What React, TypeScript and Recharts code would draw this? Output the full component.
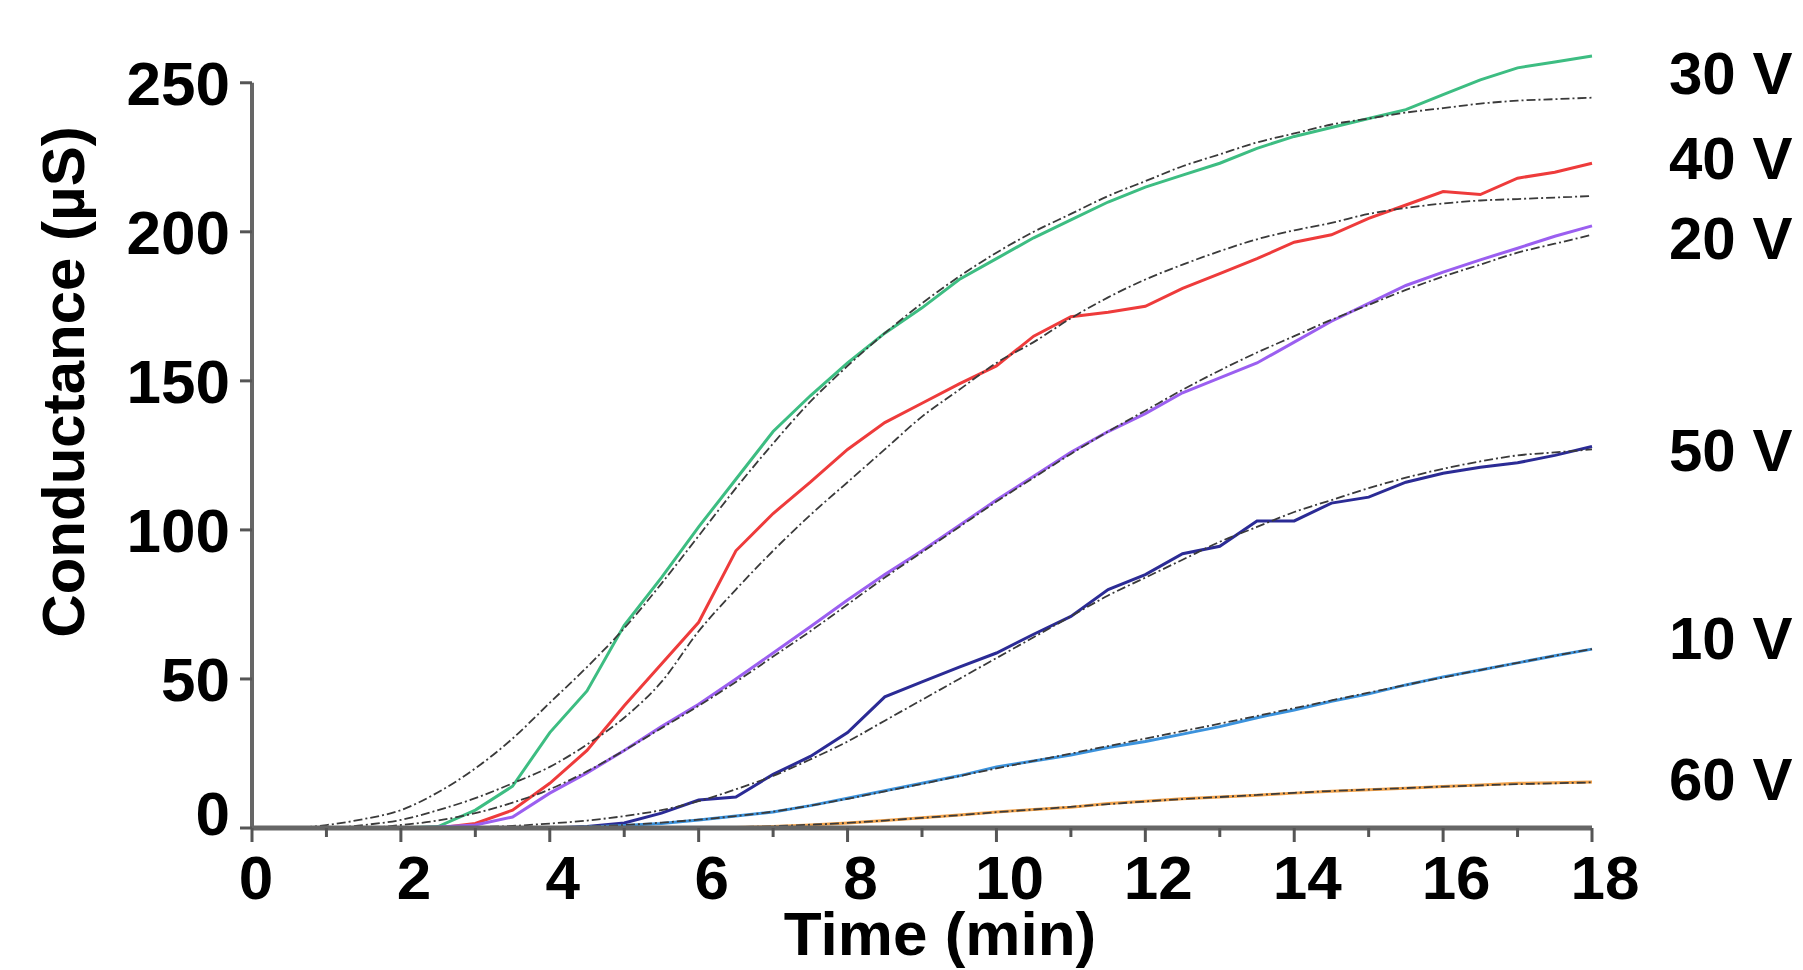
import { LineChart, Line, XAxis, YAxis, ReferenceDot, ReferenceLine } from "recharts";

const FONT = '"Liberation Sans", Arial, Helvetica, sans-serif';

// time in minutes
const time = [
  0, 0.5, 1, 1.5, 2, 2.5, 3, 3.5, 4, 4.5, 5, 5.5, 6, 6.5, 7, 7.5, 8, 8.5, 9,
  9.5, 10, 10.5, 11, 11.5, 12, 12.5, 13, 13.5, 14, 14.5, 15, 15.5, 16, 16.5,
  17, 17.5, 18,
];

// measured conductance (µS)
const g30 = [
  0, 0, 0, 0, 0, 0.5, 6, 14, 32, 46, 68, 84, 101, 117, 133, 145, 156, 166,
  174.5, 184, 191, 198, 204, 210, 215, 219, 223, 228, 232, 235, 238, 241, 246,
  251, 255, 257, 259,
];
const g40 = [
  0, 0, 0, 0, 0, 0, 1.5, 6, 15, 26, 41, 55, 69, 93, 105.5, 116, 127, 136,
  142.5, 149, 155, 165, 171.5, 173, 175, 181, 186, 191, 196.5, 199, 204.5, 209,
  213.5, 212.5, 218, 220, 223,
];
const g20 = [
  0, 0, 0, 0, 0, 0.3, 1, 3.7, 11.7, 18.5, 26, 34, 41.5, 50, 58.7, 67.5, 76.5,
  85, 93, 101.5, 110, 118, 126, 133, 139, 146, 151, 156, 163, 170, 176, 182,
  186.5, 190.6, 194.5, 198.5, 202,
];
const g50 = [
  0, 0, 0, 0, 0, 0, 0, 0, 0, 0.5, 1.7, 5, 9.4, 10.4, 18, 24, 32, 44, 49, 54,
  58.7, 65, 71, 80, 85, 92, 94.5, 103, 103, 109, 111, 116, 119, 121, 122.5,
  125, 128,
];
const g10 = [
  0, 0, 0, 0, 0, 0, 0, 0, 0, 0.3, 0.8, 1.5, 2.7, 4, 5.4, 7.5, 10, 12.5, 15,
  17.5, 20.5, 22.5, 24.5, 27, 29, 31.5, 34, 37, 39.6, 42.5, 45, 48, 50.7, 53,
  55.4, 57.8, 60,
];
const g60 = [
  0, 0, 0, 0, 0, 0, 0, 0, 0, 0, 0, 0, 0, 0.2, 0.5, 1, 1.7, 2.5, 3.4, 4.4, 5.4,
  6.2, 7, 8.2, 9, 9.8, 10.4, 11, 11.7, 12.3, 12.8, 13.3, 13.9, 14.4, 15, 15.2,
  15.4,
];

// fitted curves
const f30 = [
  0, 0, 1, 3, 6, 12, 20, 30, 42, 54, 67, 82, 98, 114, 129, 143, 155, 166, 176,
  185, 193, 200, 206, 212, 217, 222, 226, 230, 233, 236, 238, 240, 241.5, 243,
  244, 244.5, 245,
];
const f40 = [
  0, 0, 0, 1, 2.7, 6, 10, 15, 20.5, 28, 37, 49, 66, 80, 93, 105, 116, 127,
  138, 147, 156, 163, 171, 178, 184, 189, 193.5, 197.5, 200.5, 203, 206, 208,
  209.5, 210.5, 211, 211.5, 212,
];
const f20 = [
  0, 0, 0, 0, 1, 2.5, 5, 8.5, 13, 19, 26, 33.5, 41, 49, 57.5, 66, 75, 84,
  92.5, 101, 109.5, 117.5, 125.5, 133, 140, 147, 153.5, 159.5, 165, 170.5,
  175.5, 180.5, 185, 189, 193, 196, 199,
];
const f50 = [
  0, 0, 0, 0, 0, 0, 0.3, 0.7, 1.5, 2.5, 4, 6, 9, 13, 17.5, 23, 29, 36, 43, 50,
  57, 64, 71, 78, 84, 90, 96, 101, 106, 110, 114, 117.5, 120.5, 123, 125, 126,
  127,
];
const f10 = [
  0, 0, 0, 0, 0, 0, 0, 0, 0.2, 0.5, 1, 1.8, 2.8, 4, 5.5, 7.5, 9.8, 12.3, 14.8,
  17.4, 20, 22.5, 25, 27.5, 30, 32.5, 35, 37.6, 40.2, 42.8, 45.4, 48, 50.5, 53,
  55.4, 57.8, 60,
];
const f60 = [
  0, 0, 0, 0, 0, 0, 0, 0, 0, 0, 0, 0, 0.1, 0.3, 0.6, 1.1, 1.7, 2.5, 3.4, 4.3,
  5.3, 6.2, 7.1, 8, 8.9, 9.7, 10.4, 11.1, 11.8, 12.4, 12.9, 13.4, 13.9, 14.3,
  14.7, 15, 15.3,
];

const xTicks = [0, 1, 2, 3, 4, 5, 6, 7, 8, 9, 10, 11, 12, 13, 14, 15, 16, 17, 18];
const yTicks = [0, 50, 100, 150, 200, 250];

// voltage labels on the right, with the level they sit at
const voltLabels = ["30 V", "40 V", "20 V", "50 V", "10 V", "60 V"];
const voltLevels = [253.4, 225, 198, 127, 64, 16.5];

const series = [
  { key: "g30", color: "#3dbd82" },
  { key: "g40", color: "#ee3b3b" },
  { key: "g20", color: "#9b5ff0" },
  { key: "g50", color: "#2b2b95" },
  { key: "g10", color: "#3b92dc" },
  { key: "g60", color: "#f2a24a" },
];
const fits = ["f30", "f40", "f20", "f50", "f10", "f60"];

const data = time.map((t, i) => ({
  t,
  g30: g30[i],
  g40: g40[i],
  g20: g20[i],
  g50: g50[i],
  g10: g10[i],
  g60: g60[i],
  f30: f30[i],
  f40: f40[i],
  f20: f20[i],
  f50: f50[i],
  f10: f10[i],
  f60: f60[i],
}));

function XTick(props: any) {
  const { x, y, payload } = props;
  const v = payload.value;
  const major = v % 2 === 0;
  return (
    <g>
      <line x1={x} y1={y} x2={x} y2={y + (major ? 14 : 9)} stroke="#555" strokeWidth={3} />
      {major && (
        <text
          x={x + (v === 0 ? 4 : 13)}
          y={y + 71}
          textAnchor="middle"
          fontSize={62}
          fontWeight="bold"
          fontFamily={FONT}
          fill="#000"
        >
          {v}
        </text>
      )}
    </g>
  );
}

function YTick(props: any) {
  const { x, y, payload } = props;
  const v = payload.value;
  return (
    <g>
      <line x1={x - 12} y1={y} x2={x} y2={y} stroke="#555" strokeWidth={3} />
      <text
        x={x - 22}
        y={y + (v === 0 ? 7 : 22)}
        textAnchor="end"
        fontSize={62}
        fontWeight="bold"
        fontFamily={FONT}
        fill="#000"
      >
        {v}
      </text>
    </g>
  );
}

export default function App() {
  return (
    <div
      style={{
        position: "absolute",
        left: 0,
        top: 0,
        width: 1803,
        height: 970,
        background: "#fff",
      }}
    >
      <LineChart
        width={1803}
        height={970}
        data={data}
        margin={{ top: 47, right: 211, bottom: 0, left: 0 }}
      >
        <XAxis
          dataKey="t"
          type="number"
          domain={[0, 18]}
          ticks={xTicks}
          interval={0}
          height={142}
          tickSize={0}
          tickMargin={0}
          tickLine={false}
          axisLine={{ stroke: "#666", strokeWidth: 5 }}
          tick={<XTick />}
        />
        <YAxis
          type="number"
          domain={[0, 262]}
          ticks={yTicks}
          interval={0}
          width={252}
          tickSize={0}
          tickMargin={0}
          tickLine={false}
          axisLine={false}
          tick={<YTick />}
        />
        <ReferenceLine
          segment={[
            { x: 0, y: 0 },
            { x: 0, y: 250 },
          ]}
          stroke="#666"
          strokeWidth={4}
        />
        {series.map((s) => (
          <Line
            key={s.key}
            type="linear"
            dataKey={s.key}
            stroke={s.color}
            strokeWidth={3}
            dot={false}
            isAnimationActive={false}
          />
        ))}
        {fits.map((k) => (
          <Line
            key={k}
            type="monotone"
            dataKey={k}
            stroke="#3a3a3a"
            strokeWidth={1.8}
            strokeDasharray="9 3 2 3"
            dot={false}
            isAnimationActive={false}
          />
        ))}
        {voltLabels.map((lab, i) => (
          <ReferenceDot
            key={lab}
            x={18}
            y={voltLevels[i]}
            r={0}
            fill="none"
            stroke="none"
            ifOverflow="visible"
            label={{
              value: lab,
              position: "right",
              offset: 77,
              fontSize: 60,
              fontWeight: "bold",
              fontFamily: FONT,
              fill: "#000",
            }}
          />
        ))}
      </LineChart>
      <svg
        width={1803}
        height={970}
        style={{ position: "absolute", left: 0, top: 0, pointerEvents: "none" }}
      >
        <text
          x={940}
          y={955}
          textAnchor="middle"
          fontSize={62}
          fontWeight="bold"
          fontFamily={FONT}
          fill="#000"
        >
          Time (min)
        </text>
        <text
          x={84}
          y={382}
          transform="rotate(-90, 84, 382)"
          textAnchor="middle"
          fontSize={60}
          fontWeight="bold"
          fontFamily={FONT}
          fill="#000"
        >
          Conductance (µS)
        </text>
      </svg>
    </div>
  );
}
